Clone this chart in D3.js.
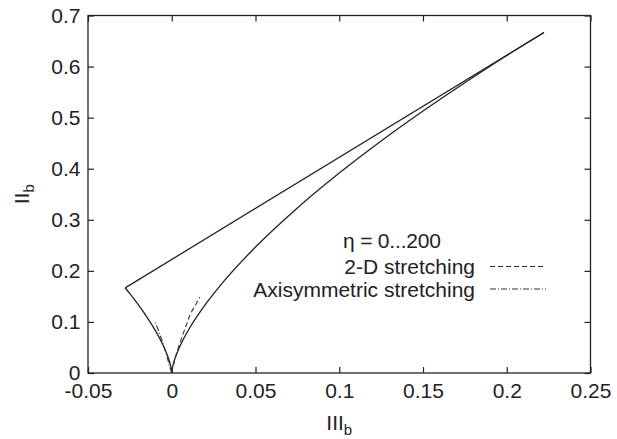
<!DOCTYPE html>
<html>
<head>
<meta charset="utf-8">
<script src="https://cdn.jsdelivr.net/npm/d3@7"></script>
<style>
  body { margin: 0; background: #fff; }
  text { font-family: "Liberation Sans", Arial, sans-serif; fill: #222; }
</style>
</head>
<body>
<script>
var width = 617, height = 439;
var margin = {top: 15.5, right: 26.5, bottom: 66, left: 88};

//Lumley triangle edges as (III_b, II_b)
var leftEdge = [[-0.0278,0.1667],[-0.025,0.1553],[-0.02,0.1339],[-0.015,0.1105],[-0.01,0.0843],
  [-0.006,0.06],[-0.003,0.0378],[-0.001,0.0182],[-0.0002,0.0062],[0,0]];
var rightEdge = [[0,0],[0.0002,0.0062],[0.001,0.0182],[0.003,0.0378],[0.006,0.06],[0.01,0.0843],
  [0.02,0.1339],[0.03,0.1754],[0.05,0.2466],[0.075,0.3232],[0.1,0.3915],[0.125,0.4543],
  [0.15,0.513],[0.175,0.5684],[0.2,0.6217],[0.2222,0.6667]];
var topEdge = [[-0.0278,0.1667],[0.2222,0.6667]];

//the two runs, eta = 0...200
var stretch2D = [[0,0],[0.0008,0.012],[0.0025,0.034],[0.0055,0.065],[0.0085,0.092],[0.0115,0.118],[0.0145,0.135],[0.0167,0.149]];
var stretchAxi = [[0,0],[-0.001,0.01],[-0.0025,0.028],[-0.0045,0.05],[-0.0065,0.07],[-0.0085,0.088],[-0.0102,0.102]];

var xTicks = [-0.05, 0, 0.05, 0.1, 0.15, 0.2, 0.25];
var yTicks = [0, 0.1, 0.2, 0.3, 0.4, 0.5, 0.6, 0.7];
var legendTitle = "\u03B7 = 0...200";
var legendLabels = ["2-D stretching", "Axisymmetric stretching"];

var fs = 21; //font size used all over

var svg = d3.select("body").append("svg").attr("width", width).attr("height", height);

var x = d3.scaleLinear().domain([-0.05, 0.25]).range([margin.left, width - margin.right]);
var y = d3.scaleLinear().domain([0, 0.7]).range([height - margin.bottom, margin.top]);

var fmt = function(d) { return String(+d.toFixed(2)); }; //plain hyphen minus, like gnuplot
var tickLen = 6;

//axes, ticks inside and mirrored like gnuplot
var gx = svg.append("g").attr("transform", "translate(0," + y(0) + ")")
  .call(d3.axisBottom(x).tickValues(xTicks).tickSize(-tickLen).tickPadding(10.5).tickFormat(fmt));
var gx2 = svg.append("g").attr("transform", "translate(0," + y(0.7) + ")")
  .call(d3.axisTop(x).tickValues(xTicks).tickSize(-tickLen).tickFormat(""));
var gy = svg.append("g").attr("transform", "translate(" + x(-0.05) + ",0)")
  .call(d3.axisLeft(y).tickValues(yTicks).tickSize(-tickLen).tickPadding(7.5).tickFormat(fmt));
var gy2 = svg.append("g").attr("transform", "translate(" + x(0.25) + ",0)")
  .call(d3.axisRight(y).tickValues(yTicks).tickSize(-tickLen).tickFormat(""));

[gx, gx2, gy, gy2].forEach(function(g) {
  g.selectAll(".domain").remove();
  g.selectAll("line").attr("stroke", "#222").attr("stroke-width", 1.2);
  g.selectAll("text").attr("font-size", fs).attr("fill", "#222");
});

svg.append("rect")
  .attr("x", x(-0.05)).attr("y", y(0.7))
  .attr("width", x(0.25) - x(-0.05)).attr("height", y(0) - y(0.7))
  .attr("fill", "none").attr("stroke", "#222").attr("stroke-width", 1.3);

var line = d3.line().x(function(d) { return x(d[0]); }).y(function(d) { return y(d[1]); })
  .curve(d3.curveMonotoneX);
var lineY = d3.line().x(function(d) { return x(d[0]); }).y(function(d) { return y(d[1]); })
  .curve(d3.curveMonotoneY);

[leftEdge, rightEdge, topEdge].forEach(function(e) {
  svg.append("path").attr("d", line(e))
    .attr("fill", "none").attr("stroke", "#222").attr("stroke-width", 1.3);
});

svg.append("path").attr("d", lineY(stretch2D))
  .attr("fill", "none").attr("stroke", "#333").attr("stroke-width", 1.1)
  .attr("stroke-dasharray", "5,3");
svg.append("path").attr("d", lineY(stretchAxi))
  .attr("fill", "none").attr("stroke", "#333").attr("stroke-width", 1.1)
  .attr("stroke-dasharray", "6,2,1,2");

//axis titles
var xt = svg.append("text").attr("x", x(0.1)).attr("y", 430).attr("text-anchor", "middle").attr("font-size", fs);
xt.append("tspan").text("III");
xt.append("tspan").attr("font-size", 15).attr("dy", 5).text("b");

var yt = svg.append("text").attr("transform", "translate(29," + y(0.35) + ") rotate(-90)")
  .attr("text-anchor", "middle").attr("font-size", fs);
yt.append("tspan").text("II");
yt.append("tspan").attr("font-size", 15).attr("dy", 5).text("b");

//legend
svg.append("text").attr("x", 392).attr("y", 248).attr("text-anchor", "middle")
  .attr("font-size", fs).attr("textLength", 98).attr("lengthAdjust", "spacing").text(legendTitle);

var dashes = ["5,3", "6,2,1,2"];
legendLabels.forEach(function(l, i) {
  var ly = 266.5 + i * 22.5;
  svg.append("text").attr("x", 475).attr("y", ly + 7.5).attr("text-anchor", "end")
    .attr("font-size", fs).text(l);
  svg.append("line").attr("x1", 490).attr("x2", 546).attr("y1", ly).attr("y2", ly)
    .attr("stroke", "#333").attr("stroke-width", 1.1).attr("stroke-dasharray", dashes[i]);
});
</script>
</body>
</html>
